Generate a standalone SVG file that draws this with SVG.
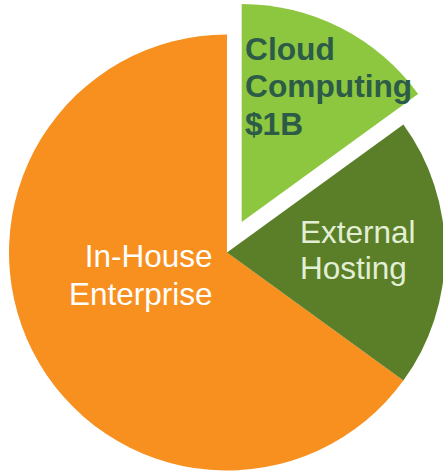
<svg xmlns="http://www.w3.org/2000/svg" width="443" height="472" viewBox="0 0 443 472">
  <style>
    .lbl { font-family: "Liberation Sans", Arial, sans-serif; }
    .cloud { font-size: 31.7px; font-weight: bold; fill: #2C5B48; }
    .ext { font-size: 31.5px; fill: #E3EFD5; }
    .inh { font-size: 31.5px; fill: #FFFFFF; text-anchor: end; }
  </style>
  <g id="inhouse">
    <path d="M227,252.5 L227,34.5 A218,218 0 1,0 403.4,380.6 Z" fill="#F7901E"/>
    <text class="lbl inh"><tspan x="212.5" y="266.7">In-House</tspan><tspan x="212.5" y="305">Enterprise</tspan></text>
  </g>
  <g id="external">
    <path d="M227,252.5 L403.4,124.4 A218,218 0 0,1 403.4,380.6 Z" fill="#5A7F28"/>
    <text class="lbl ext"><tspan x="300" y="243">External</tspan><tspan x="300" y="278.5">Hosting</tspan></text>
  </g>
  <g id="cloud">
    <path d="M241.7,222 L241.7,4 A218,218 0 0,1 418.1,93.9 Z" fill="#8DC63F"/>
    <text class="lbl cloud"><tspan x="245" y="59.5">Cloud</tspan><tspan x="245" y="97">Computing</tspan><tspan x="245" y="134.5">$1B</tspan></text>
  </g>
  <g id="connectors"/>
</svg>
